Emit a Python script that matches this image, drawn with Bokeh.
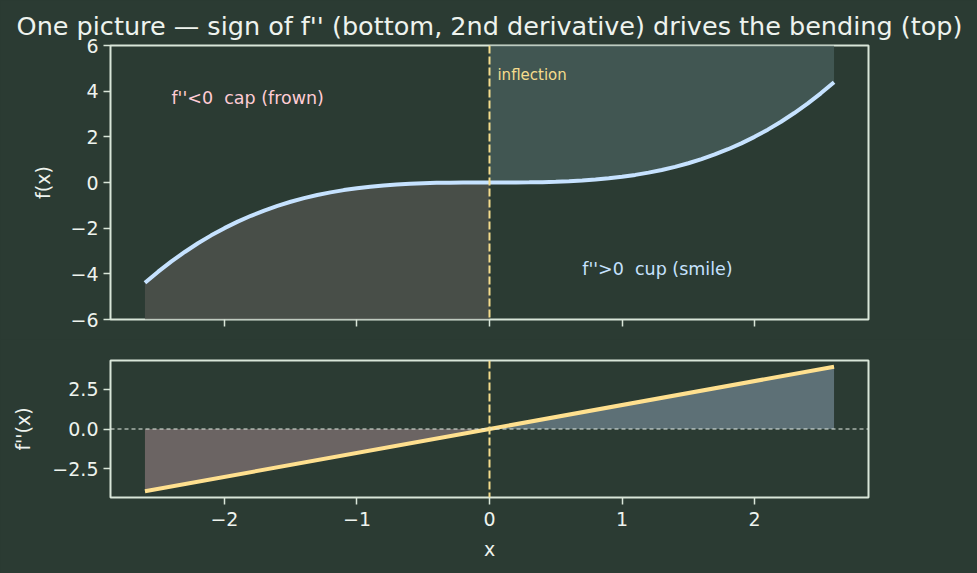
from bokeh.plotting import figure
from bokeh.layouts import column
from bokeh.models import Span, FixedTicker, Range1d, Label
from bokeh.embed import file_html
from bokeh.resources import INLINE

# data
x_neg = [-2.6, -2.5, -2.4, -2.3, -2.2, -2.1, -2.0, -1.9, -1.8, -1.7, -1.6, -1.5, -1.4,
         -1.3, -1.2, -1.1, -1.0, -0.9, -0.8, -0.7, -0.6, -0.5, -0.4, -0.3, -0.2, -0.1, 0.0]
f_neg = [-4.394, -3.906, -3.456, -3.042, -2.662, -2.315, -2.0, -1.715, -1.458, -1.228,
         -1.024, -0.844, -0.686, -0.549, -0.432, -0.333, -0.25, -0.182, -0.128, -0.086,
         -0.054, -0.031, -0.016, -0.007, -0.002, -0.0003, 0.0]
x_pos = [0.0, 0.1, 0.2, 0.3, 0.4, 0.5, 0.6, 0.7, 0.8, 0.9, 1.0, 1.1, 1.2, 1.3, 1.4, 1.5,
         1.6, 1.7, 1.8, 1.9, 2.0, 2.1, 2.2, 2.3, 2.4, 2.5, 2.6]
f_pos = [0.0, 0.0003, 0.002, 0.007, 0.016, 0.031, 0.054, 0.086, 0.128, 0.182, 0.25,
         0.333, 0.432, 0.549, 0.686, 0.844, 1.024, 1.228, 1.458, 1.715, 2.0, 2.315,
         2.662, 3.042, 3.456, 3.906, 4.394]
x_all = x_neg + x_pos[1:]
f_all = f_neg + f_pos[1:]

x2_neg = [-2.6, 0.0]
f2_neg = [-3.9, 0.0]
x2_pos = [0.0, 2.6]
f2_pos = [0.0, 3.9]

x_ticks = [-2, -1, 0, 1, 2]
y1_ticks = [-6, -4, -2, 0, 2, 4, 6]
y2_ticks = [-2.5, 0.0, 2.5]

BG = "#2b3b33"
FG = "#d9e6d9"
TXT = "#eef3ee"
FONT = "DejaVu Sans"
NB = "\u00a0"

def style(p):
    p.background_fill_color = BG
    p.border_fill_color = BG
    p.outline_line_color = FG
    p.outline_line_width = 2
    p.grid.visible = False
    for ax in p.xaxis + p.yaxis:
        ax.axis_line_color = None
        ax.major_tick_line_color = FG
        ax.major_tick_line_width = 1.5
        ax.major_tick_in = 0
        ax.major_tick_out = 7
        ax.minor_tick_line_color = None
        ax.major_label_text_color = TXT
        ax.major_label_text_font = FONT
        ax.major_label_text_font_size = "19px"
        ax.major_label_standoff = 5
        ax.axis_label_text_color = TXT
        ax.axis_label_text_font = FONT
        ax.axis_label_text_font_size = "19px"
        ax.axis_label_text_font_style = "normal"
        ax.axis_label_standoff = 8

# ---------- top ----------
p1 = figure(width=977, height=339, output_backend="svg", toolbar_location=None,
            x_range=Range1d(-2.86, 2.86), y_range=Range1d(-6, 6),
            min_border_left=110, min_border_right=109, min_border_top=45,
            min_border_bottom=20)
p1.title.text = "One picture \u2014 sign of f'' (bottom, 2nd derivative) drives the bending (top)"
p1.title.align = "center"
p1.title.text_color = TXT
p1.title.text_font = FONT
p1.title.text_font_size = "25.5px"
p1.title.text_font_style = "normal"
p1.title.offset = 0
p1.title.standoff = 9

p1.varea(x=x_neg, y1=f_neg, y2=-6, fill_color="#535550", fill_alpha=0.75)
p1.varea(x=x_pos, y1=f_pos, y2=6, fill_color="#4a605d", fill_alpha=0.75)
p1.line(x_all, f_all, line_color="#c6e2ff", line_width=4)
p1.add_layout(Span(location=0, dimension="height", line_color="#f5dc8c",
                   line_width=2, line_dash="8 3"))
p1.add_layout(Label(x=-2.4, y=3.72, text="f''<0" + NB + " cap (frown)", text_color="#ffccd5",
                    text_font=FONT, text_font_size="17.5px", text_baseline="middle"))
p1.add_layout(Label(x=0.70, y=-3.77, text="f''>0" + NB + " cup (smile)", text_color="#c6e2ff",
                    text_font=FONT, text_font_size="17.5px", text_baseline="middle"))
p1.add_layout(Label(x=0.06, y=4.69, text="inflection", text_color="#f5dc8c",
                    text_font=FONT, text_font_size="15px", text_baseline="middle"))
style(p1)
p1.xaxis.ticker = FixedTicker(ticks=x_ticks)
p1.xaxis.major_label_text_color = None
p1.xaxis.major_label_text_font_size = "1px"
p1.yaxis.ticker = FixedTicker(ticks=y1_ticks)
p1.yaxis.axis_label = "f(x)"
p1.yaxis.axis_label_standoff = 13
p1.yaxis.major_label_overrides = {v: str(v).replace("-", "\u2212") for v in y1_ticks}

# ---------- bottom ----------
p2 = figure(width=977, height=234, output_backend="svg", toolbar_location=None,
            x_range=p1.x_range, y_range=Range1d(-4.29, 4.29),
            min_border_left=110, min_border_right=109, min_border_top=21,
            min_border_bottom=76)
p2.varea(x=x2_neg, y1=f2_neg, y2=0, fill_color="#776c6c", fill_alpha=0.85)
p2.varea(x=x2_pos, y1=0, y2=f2_pos, fill_color="#667a82", fill_alpha=0.85)
p2.add_layout(Span(location=0, dimension="width", line_color="#e6eee6",
                   line_width=1.2, line_dash="4 3"))
p2.add_layout(Span(location=0, dimension="height", line_color="#f5dc8c",
                   line_width=2, line_dash="8 3"))
p2.line(x2_neg + x2_pos[1:], f2_neg + f2_pos[1:], line_color="#ffe08f", line_width=4)
style(p2)
p2.xaxis.ticker = FixedTicker(ticks=x_ticks)
p2.xaxis.major_label_overrides = {v: str(v).replace("-", "\u2212") for v in x_ticks}
p2.xaxis.major_label_standoff = 7
p2.xaxis.axis_label = "x"
p2.xaxis.axis_label_standoff = 9
p2.yaxis.ticker = FixedTicker(ticks=y2_ticks)
p2.yaxis.major_label_overrides = {v: ("%.1f" % v).replace("-", "\u2212") for v in y2_ticks}
p2.yaxis.axis_label = "f''(x)"
p2.yaxis.axis_label_standoff = 15

layout = column(p1, p2, spacing=0, styles={"background-color": BG})
open("out.html", "w").write(file_html(layout, INLINE))
